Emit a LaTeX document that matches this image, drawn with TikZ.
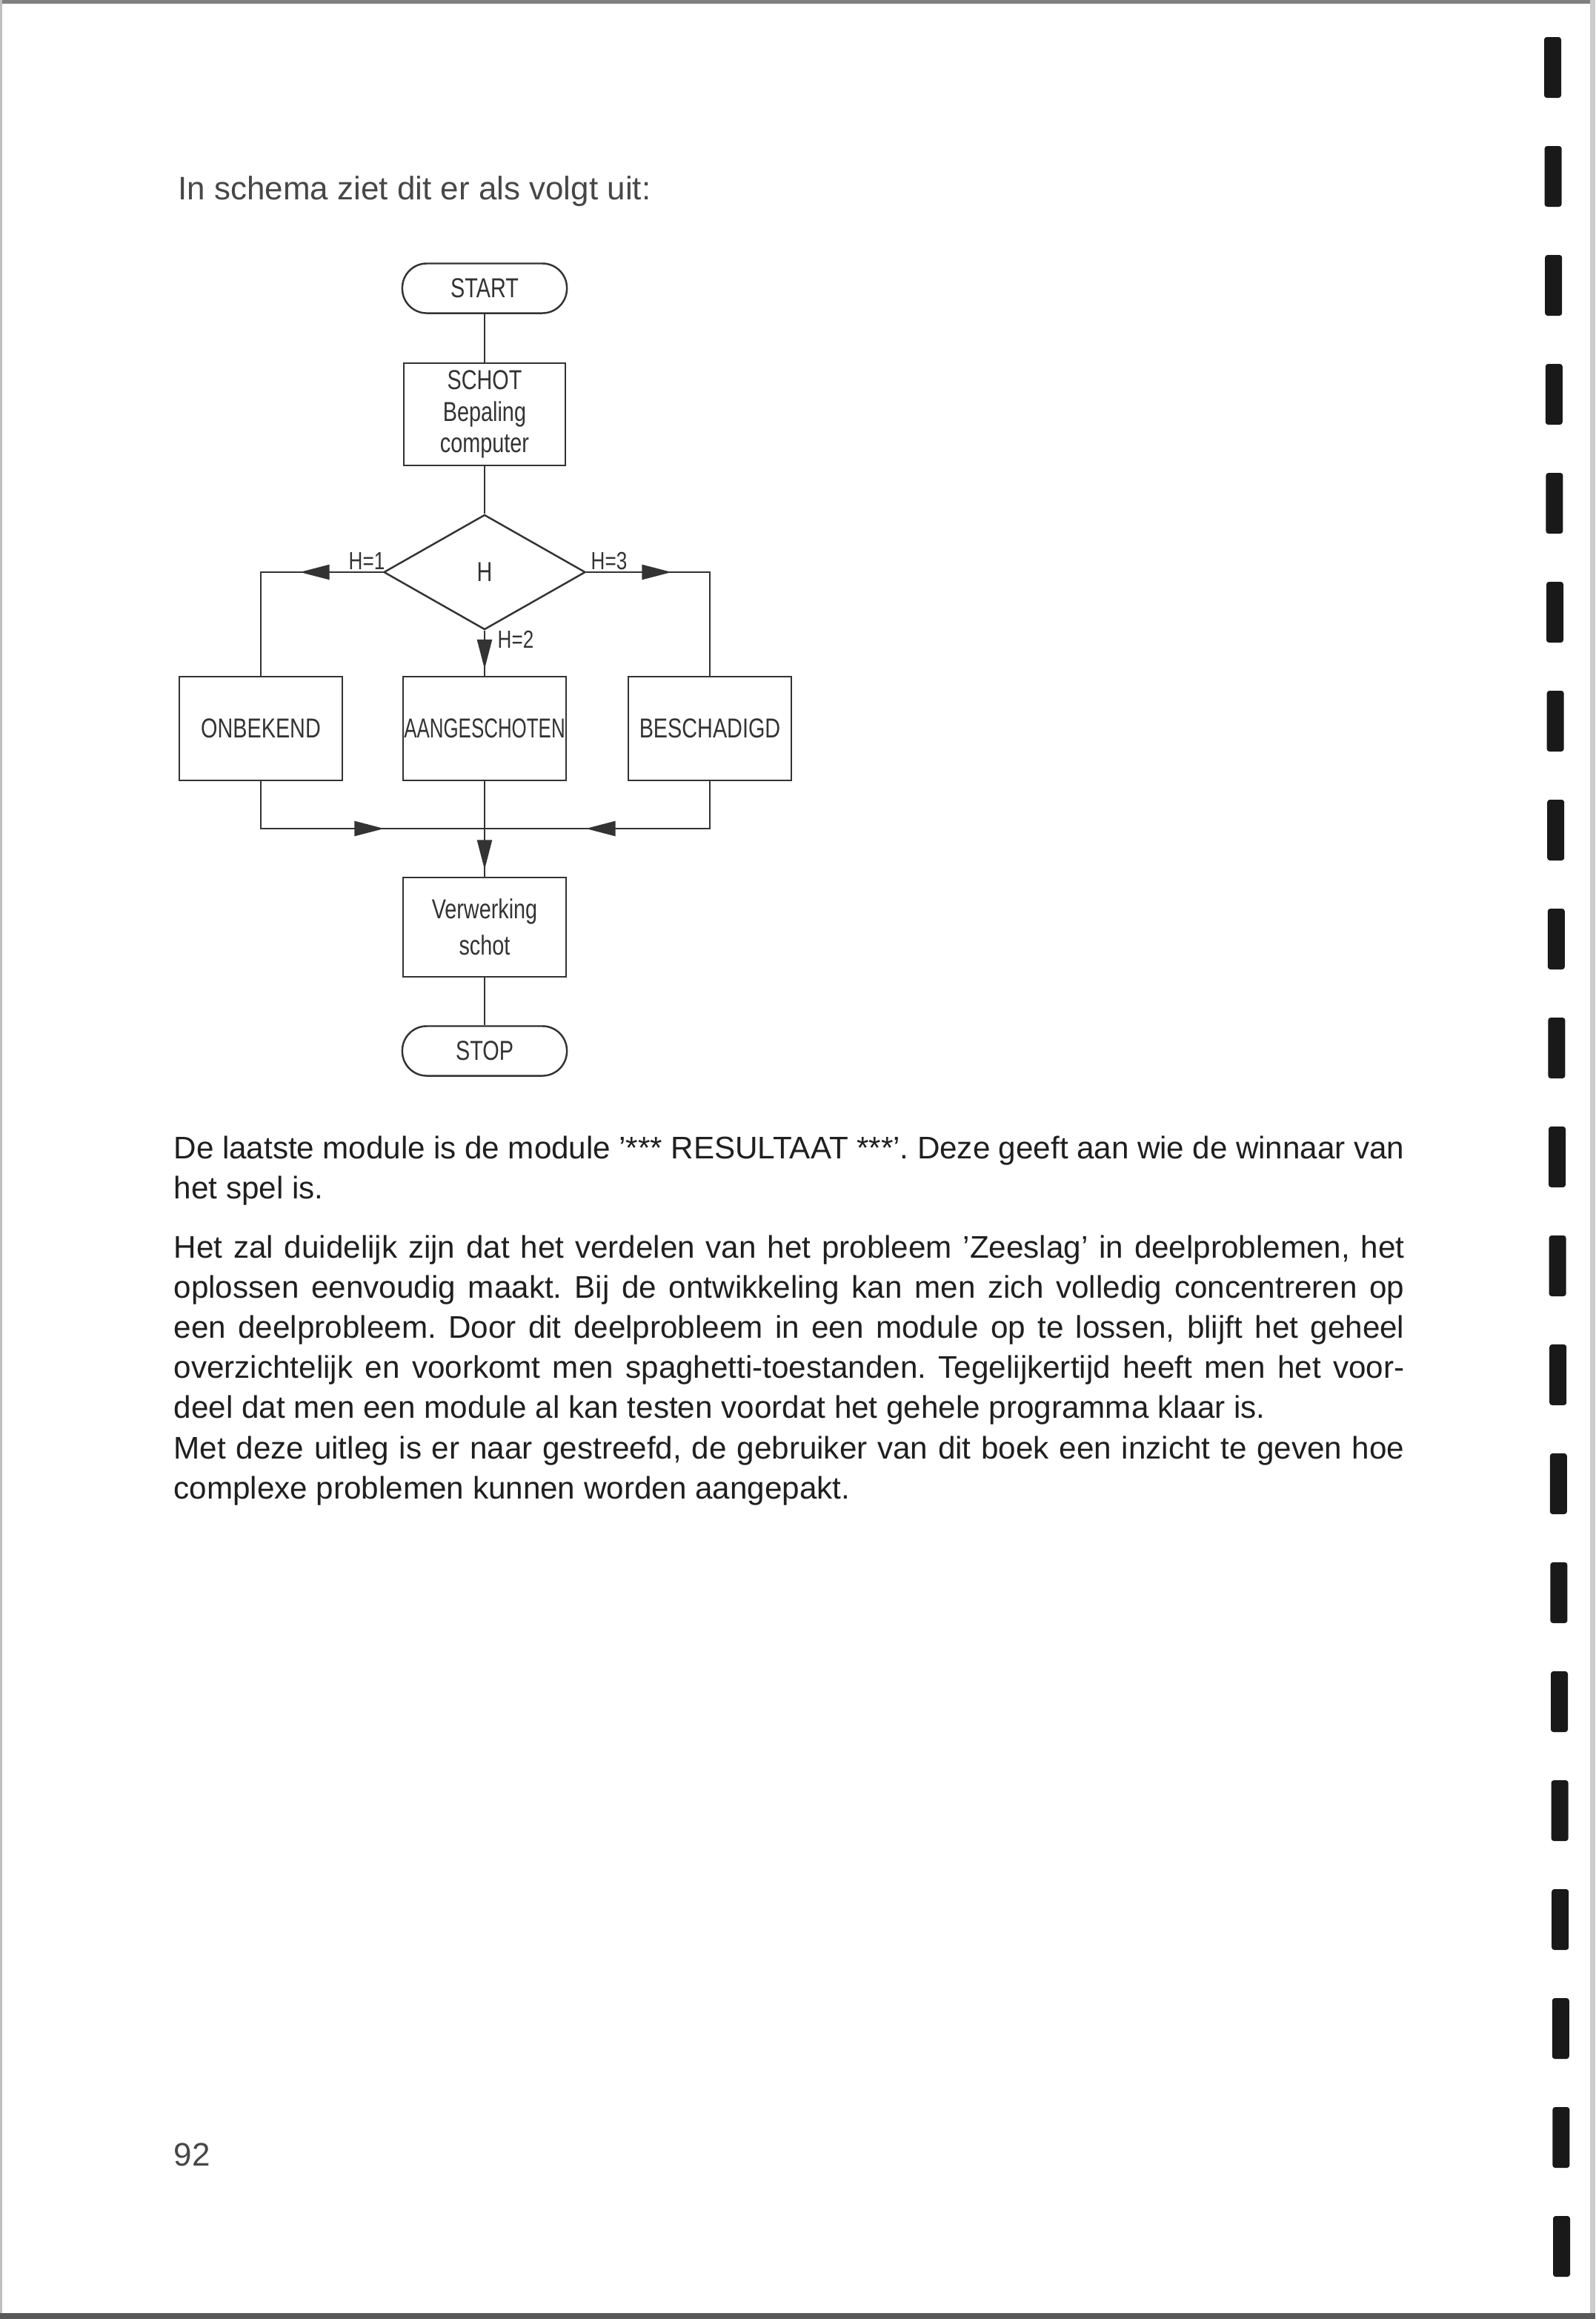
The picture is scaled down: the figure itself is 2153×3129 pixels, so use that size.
\documentclass[tikz,border=0pt]{standalone}
\usepackage{fontspec}
\setmainfont{Liberation Sans}
\newfontfamily\lettering[FakeStretch=0.78]{Liberation Sans}
\usetikzlibrary{shapes.geometric,arrows.meta,decorations.markings}
\definecolor{ink}{HTML}{333333}
\frenchspacing
\tikzset{
  flow/.style={draw=ink,line width=0.7pt,text=ink,align=center,inner sep=0pt,
    font=\lettering\fontsize{10.5}{12}\selectfont},
  terminal/.style={flow,rectangle,rounded corners=0.33cm,minimum width=2.22cm,minimum height=0.67cm},
  block/.style={flow,rectangle,minimum width=2.2cm,minimum height=1.4cm},
  decision/.style={flow,diamond,minimum width=2.72cm,minimum height=1.55cm},
  cond/.style={text=ink,inner sep=0pt,font=\lettering\fontsize{9.5}{11}\selectfont},
  line/.style={ink,line width=0.7pt},
  midarrow/.style={postaction={decorate,decoration={markings,
    mark=at position #1 with {\arrow{Triangle[length=0.4cm,width=0.2cm]}}}}},
  bodyline/.style={anchor=base west,inner sep=0pt,text=black!88,font=\fontsize{12}{15.4}\selectfont}
}
\begin{document}
\begin{tikzpicture}[x=0.01cm,y=-0.01cm]
  \useasboundingbox (0,0) rectangle (2153,3129);
  % page edges and binder holes of the scan
  \fill[black!50] (0,0) rectangle (2153,5);
  \fill[black!25] (0,0) rectangle (3,3129);
  \fill[black!20] (2146,0) rectangle (2153,3129);
  \fill[black!65] (0,3121) rectangle (2153,3129);
  \foreach \k in {0,...,20}
    \fill[black!90,rounded corners=1pt] ({2084+0.6*\k},{50+147*\k}) rectangle ++(23,82);

  \node[anchor=base west,inner sep=0pt,text=black!72,font=\fontsize{12.5}{15}\selectfont]
    (intro) at (240,269) {In schema ziet dit er als volgt uit:};

  % flowchart
  \node[terminal] (start) at (654,389) {START};
  \node[block,minimum width=2.18cm,minimum height=1.38cm] (schot) at (654,559) {SCHOT\\Bepaling\\computer};
  \node[decision] (h) at (654,772) {H};
  \node[block] (onb) at (352,983) {ONBEKEND};
  \node[block] (aang) at (654,983) {\scalebox{0.9}[1]{AANGESCHOTEN}};
  \node[block] (besch) at (958,983) {BESCHADIGD};
  \coordinate (merge) at (654,1118);
  \node[block,minimum height=1.34cm,font=\lettering\fontsize{10.5}{14}\selectfont] (verw) at (654,1251) {Verwerking\\schot};
  \node[terminal] (stop) at (654,1418) {STOP};

  \draw[line] (start) -- (schot);
  \draw[line] (schot) -- (h);
  \draw[line,midarrow=1.12cm] (h.west) -| (onb.north);
  \draw[line,midarrow=1.15cm] (h.east) -| (besch.north);
  \draw[line,midarrow=0.52cm] (h.south) -- (aang.north);
  \draw[line,midarrow=2.30cm] (onb.south) |- (merge);
  \draw[line,midarrow=2.31cm] (besch.south) |- (merge);
  \draw[line,midarrow=1.19cm] (aang.south) -- (verw.north);
  \draw[line] (verw) -- (stop);

  \node[cond] (h1) at (495,757) {H=1};
  \node[cond] (h3) at (822,757) {H=3};
  \node[cond] (h2) at (696,863) {H=2};

  % text below the chart
  \node[bodyline] (p1a) at (234,1563) {\makebox[16.6cm][s]{De laatste module is de module ’*** RESULTAAT ***’. Deze geeft aan wie de winnaar van}};
  \node[bodyline] (p1b) at (234,1617) {het spel is.};
  \node[bodyline] (p2a) at (234,1697) {\makebox[16.6cm][s]{Het zal duidelijk zijn dat het verdelen van het probleem ’Zeeslag’ in deelproblemen, het}};
  \node[bodyline] (p2b) at (234,1751) {\makebox[16.6cm][s]{oplossen eenvoudig maakt. Bij de ontwikkeling kan men zich volledig concentreren op}};
  \node[bodyline] (p2c) at (234,1805) {\makebox[16.6cm][s]{een deelprobleem. Door dit deelprobleem in een module op te lossen, blijft het geheel}};
  \node[bodyline] (p2d) at (234,1859) {\makebox[16.6cm][s]{overzichtelijk en voorkomt men spaghetti-toestanden. Tegelijkertijd heeft men het voor-}};
  \node[bodyline] (p2e) at (234,1913) {deel dat men een module al kan testen voordat het gehele programma klaar is.};
  \node[bodyline] (p2f) at (234,1968) {\makebox[16.6cm][s]{Met deze uitleg is er naar gestreefd, de gebruiker van dit boek een inzicht te geven hoe}};
  \node[bodyline] (p2g) at (234,2022) {complexe problemen kunnen worden aangepakt.};

  \node[anchor=base west,inner sep=0pt,text=black!72,font=\fontsize{12.5}{15}\selectfont]
    (pagenr) at (234,2922) {92};
\end{tikzpicture}
\end{document}
